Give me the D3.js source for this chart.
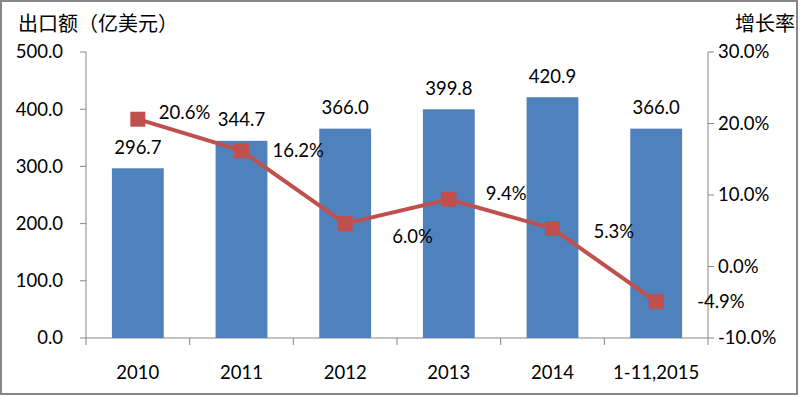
<!doctype html>
<html>
<head>
<meta charset="utf-8">
<style>
body{ margin:0; background:#ffffff; }
.txt{ font-family: Lato, "Noto Sans", Arial; font-size:18.5px; fill:#000; }
.cjk{ font-family: "Noto Sans CJK SC"; font-size:20px; fill:#000; }
</style>
<script src="https://d3js.org/d3.v7.min.js"></script>
</head>
<body>
<svg width="800" height="396"></svg>
<script>
var categories = ["2010", "2011", "2012", "2013", "2014", "1-11,2015"];
var exports = [296.7, 344.7, 366.0, 399.8, 420.9, 366.0];
var growth = [20.6, 16.2, 6.0, 9.4, 5.3, -4.9];
var leftTicks = [0, 100, 200, 300, 400, 500];
var rightTicks = [-10, 0, 10, 20, 30];

// label offsets for growth labels (hand placed like the original)
var growthLabelOff = [[21, -7], [31, 0], [47, 13], [37, -6], [41, 3], [41, 0]];

var svg = d3.select("svg");

svg.append("rect")
  .attr("x", 1).attr("y", 1).attr("width", 796).attr("height", 393)
  .attr("fill", "#fff").attr("stroke", "#868686").attr("stroke-width", 2);

var x = d3.scaleBand().domain(categories).range([86, 708]).paddingInner(0.5).paddingOuter(0.25);
var xb = d3.scaleBand().domain(categories).range([86, 708]);
var y = d3.scaleLinear().domain([0, 500]).range([338, 52]);
var y2 = d3.scaleLinear().domain([-10, 30]).range([338, 52]);

// axes
var axisColor = "#868686";
svg.append("line").attr("x1", 86).attr("x2", 86).attr("y1", 52).attr("y2", 338).attr("stroke", axisColor);
svg.append("line").attr("x1", 708).attr("x2", 708).attr("y1", 52).attr("y2", 338).attr("stroke", axisColor);
svg.append("line").attr("x1", 86).attr("x2", 708).attr("y1", 338).attr("y2", 338).attr("stroke", axisColor);

leftTicks.forEach(function(t) {
  svg.append("line").attr("x1", 80).attr("x2", 86).attr("y1", y(t)).attr("y2", y(t)).attr("stroke", axisColor);
  svg.append("text").attr("class", "txt").attr("x", 63).attr("y", y(t)).attr("dy", "0.35em")
    .attr("text-anchor", "end").text(t.toFixed(1));
});
rightTicks.forEach(function(t) {
  svg.append("line").attr("x1", 708).attr("x2", 714).attr("y1", y2(t)).attr("y2", y2(t)).attr("stroke", axisColor);
  svg.append("text").attr("class", "txt").attr("x", 718).attr("y", y2(t)).attr("dy", "0.35em")
    .text(t.toFixed(1) + "%");
});
categories.concat(["end"]).forEach(function(c, i) {
  var xx = i < categories.length ? xb(c) : 708;
  svg.append("line").attr("x1", xx).attr("x2", xx).attr("y1", 338).attr("y2", 345).attr("stroke", axisColor);
});
categories.forEach(function(c) {
  svg.append("text").attr("class", "txt").attr("x", xb(c) + xb.bandwidth() / 2).attr("y", 373)
    .attr("dy", "0.35em").attr("text-anchor", "middle").text(c);
});

// bars
svg.selectAll("rect.bar").data(exports).enter().append("rect")
  .attr("class", "bar")
  .attr("x", function(d, i) { return x(categories[i]); })
  .attr("width", x.bandwidth())
  .attr("y", function(d) { return y(d); })
  .attr("height", function(d) { return 338 - y(d); })
  .attr("fill", "#4F81BD");

svg.selectAll("text.bv").data(exports).enter().append("text")
  .attr("class", "txt bv")
  .attr("x", function(d, i) { return x(categories[i]) + x.bandwidth() / 2; })
  .attr("y", function(d) { return y(d) - 21; })
  .attr("dy", "0.35em").attr("text-anchor", "middle")
  .text(function(d) { return d.toFixed(1); });

// line
var cx = function(i) { return xb(categories[i]) + xb.bandwidth() / 2; };
var line = d3.line().x(function(d, i) { return cx(i); }).y(function(d) { return y2(d); });
svg.append("path").datum(growth).attr("d", line)
  .attr("fill", "none").attr("stroke", "#C0504D").attr("stroke-width", 4);

svg.selectAll("rect.mk").data(growth).enter().append("rect")
  .attr("class", "mk")
  .attr("x", function(d, i) { return cx(i) - 7.5; })
  .attr("y", function(d) { return y2(d) - 7.5; })
  .attr("width", 15).attr("height", 15)
  .attr("fill", "#C0504D");

svg.selectAll("text.gv").data(growth).enter().append("text")
  .attr("class", "txt gv")
  .attr("x", function(d, i) { return cx(i) + growthLabelOff[i][0]; })
  .attr("y", function(d, i) { return y2(d) + growthLabelOff[i][1]; })
  .attr("dy", "0.35em")
  .text(function(d) { return d.toFixed(1) + "%"; });

// titles
svg.append("text").attr("class", "cjk").attr("x", 18).attr("y", 24).attr("dy", "0.35em").text("出口额（亿美元）");
svg.append("text").attr("class", "cjk").attr("x", 735).attr("y", 24).attr("dy", "0.35em").text("增长率");
</script>
</body>
</html>
